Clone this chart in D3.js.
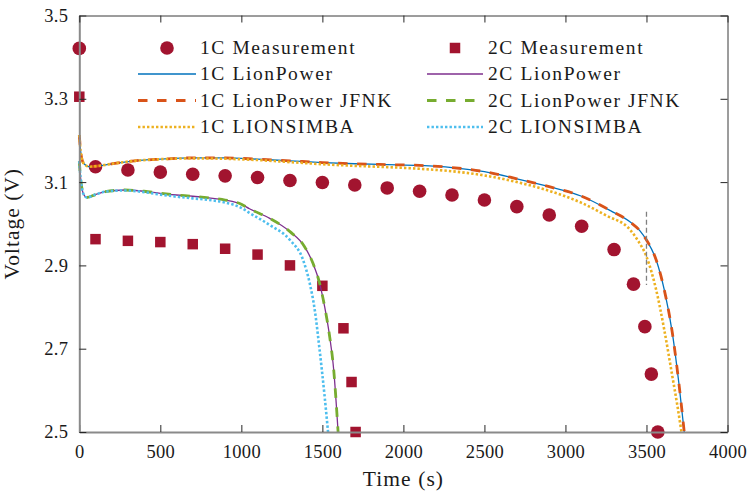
<!DOCTYPE html>
<html>
<head>
<meta charset="utf-8">
<script src="https://cdn.jsdelivr.net/npm/d3@7"></script>
<style>
  html, body { margin: 0; padding: 0; background: #fff; }
  svg { display: block; font-family: "Liberation Serif", "Times New Roman", serif; }
</style>
</head>
<body>
<svg id="chart" width="753" height="497"></svg>
<script>
// Discharge voltage vs. time, 1C and 2C
const xTicks = [0, 500, 1000, 1500, 2000, 2500, 3000, 3500, 4000];
const yTicks = [2.5, 2.7, 2.9, 3.1, 3.3, 3.5];

// Measurements
const meas1C_t = [0, 100, 300, 500, 700, 900, 1100, 1300, 1500, 1700, 1900, 2100, 2300, 2500, 2700, 2900, 3100, 3300, 3420, 3490, 3530, 3570];
const meas1C_v = [3.421, 3.137, 3.129, 3.124, 3.119, 3.115, 3.111, 3.104, 3.099, 3.093, 3.086, 3.078, 3.069, 3.057, 3.041, 3.021, 2.994, 2.938, 2.855, 2.753, 2.639, 2.500];
const meas2C_t = [0, 100, 300, 500, 700, 900, 1100, 1300, 1500, 1630, 1680, 1705];
const meas2C_v = [3.305, 2.963, 2.959, 2.956, 2.951, 2.940, 2.926, 2.900, 2.851, 2.749, 2.620, 2.500];

// 1C simulations
const lp1C_t = [0, 8, 25, 60, 120, 220, 340, 500, 700, 900, 1100, 1300, 1500, 1700, 1900, 2100, 2300, 2500, 2700, 2900, 3100, 3280, 3400, 3460, 3500, 3560, 3610, 3660, 3700, 3733];
const lp1C_v = [3.213, 3.175, 3.146, 3.137, 3.139, 3.145, 3.151, 3.155, 3.158, 3.158, 3.155, 3.151, 3.147, 3.144, 3.142, 3.140, 3.135, 3.125, 3.108, 3.089, 3.066, 3.031, 3.004, 2.983, 2.961, 2.913, 2.841, 2.737, 2.617, 2.500];
const jfnk1C_t = [0, 8, 25, 60, 120, 220, 340, 500, 700, 900, 1100, 1300, 1500, 1700, 1900, 2100, 2300, 2500, 2700, 2900, 3100, 3280, 3400, 3460, 3500, 3560, 3610, 3660, 3700, 3733];
const jfnk1C_v = [3.213, 3.175, 3.146, 3.137, 3.139, 3.145, 3.151, 3.155, 3.158, 3.158, 3.155, 3.151, 3.147, 3.144, 3.142, 3.140, 3.135, 3.125, 3.108, 3.089, 3.066, 3.031, 3.004, 2.983, 2.961, 2.913, 2.841, 2.737, 2.617, 2.500];
const simba1C_t = [0, 8, 25, 60, 120, 220, 340, 500, 700, 900, 1100, 1300, 1500, 1700, 1900, 2100, 2300, 2500, 2700, 2900, 3100, 3250, 3400, 3450, 3500, 3560, 3610, 3660, 3690, 3716];
const simba1C_v = [3.213, 3.175, 3.146, 3.137, 3.139, 3.145, 3.151, 3.155, 3.157, 3.156, 3.153, 3.148, 3.143, 3.139, 3.136, 3.132, 3.126, 3.116, 3.100, 3.079, 3.050, 3.020, 2.985, 2.958, 2.921, 2.841, 2.745, 2.633, 2.565, 2.500];

// 2C simulations
const lp2C_t = [0, 8, 25, 46, 100, 160, 280, 400, 500, 600, 700, 800, 900, 1000, 1050, 1175, 1300, 1390, 1442, 1483, 1514, 1545, 1570, 1597];
const lp2C_v = [3.150, 3.110, 3.072, 3.063, 3.070, 3.077, 3.081, 3.078, 3.073, 3.069, 3.066, 3.062, 3.057, 3.047, 3.036, 3.013, 2.981, 2.945, 2.905, 2.857, 2.801, 2.729, 2.649, 2.500];
const jfnk2C_t = [0, 8, 25, 46, 100, 160, 280, 400, 500, 600, 700, 800, 900, 1000, 1050, 1175, 1300, 1390, 1442, 1483, 1514, 1545, 1570, 1597];
const jfnk2C_v = [3.150, 3.110, 3.072, 3.063, 3.070, 3.077, 3.081, 3.078, 3.073, 3.069, 3.066, 3.062, 3.057, 3.047, 3.036, 3.013, 2.981, 2.945, 2.905, 2.857, 2.801, 2.729, 2.649, 2.500];
const simba2C_t = [0, 8, 25, 46, 100, 160, 280, 400, 500, 600, 700, 800, 900, 1000, 1050, 1175, 1300, 1381, 1422, 1453, 1483, 1514, 1535];
const simba2C_v = [3.150, 3.110, 3.072, 3.063, 3.070, 3.077, 3.080, 3.076, 3.070, 3.065, 3.061, 3.057, 3.051, 3.038, 3.026, 2.997, 2.961, 2.913, 2.857, 2.793, 2.697, 2.585, 2.500];

// Reference marker at t = 3500 s
const marker_t = 3500;
const marker_v = [2.853, 3.029];

const legendLabels = ["1C Measurement", "2C Measurement", "1C LionPower", "2C LionPower",
  "1C LionPower JFNK", "2C LionPower JFNK", "1C LIONSIMBA", "2C LIONSIMBA"];

const C = {
  meas: "#A2142F", blue: "#0072BD", orange: "#D95319", yellow: "#EDB120",
  purple: "#7E2F8E", green: "#77AC30", cyan: "#4DBEEE"
};
const FONT = "'Liberation Serif', 'Times New Roman', serif";
const INK = "#1a1a1a";

const svg = d3.select("#chart");
const plot = { left: 79.3, right: 727.5, top: 15.5, bottom: 432 };

const x = d3.scaleLinear().domain([0, 4000]).range([plot.left, plot.right]);
const y = d3.scaleLinear().domain([2.5, 3.5]).range([plot.bottom, plot.top]);

const zip = (ts, vs) => ts.map((t, i) => [t, vs[i]]);

// Measurement markers (drawn below the simulation curves)
const gMarks = svg.append("g");
gMarks.selectAll("circle.m1").data(zip(meas1C_t, meas1C_v)).join("circle")
  .attr("class", "m1").attr("cx", d => x(d[0])).attr("cy", d => y(d[1]))
  .attr("r", 6.8).attr("fill", C.meas);
const sq = 10.5;
gMarks.selectAll("rect.m2").data(zip(meas2C_t, meas2C_v)).join("rect")
  .attr("class", "m2").attr("x", d => x(d[0]) - sq / 2).attr("y", d => y(d[1]) - sq / 2)
  .attr("width", sq).attr("height", sq).attr("fill", C.meas);

// Simulation curves
const line = d3.line().x(d => x(d[0])).y(d => y(d[1])).curve(d3.curveMonotoneX);
const styles = {
  solid: { w: 1.3, dash: null },
  dashed: { w: 2.8, dash: "9.5,9.5" },
  dotted: { w: 2.6, dash: "2.4,2.1" }
};
const series = [
  { t: lp1C_t, v: lp1C_v, c: C.blue, s: "solid" },
  { t: lp2C_t, v: lp2C_v, c: C.purple, s: "solid" },
  { t: jfnk1C_t, v: jfnk1C_v, c: C.orange, s: "dashed" },
  { t: jfnk2C_t, v: jfnk2C_v, c: C.green, s: "dashed" },
  { t: simba1C_t, v: simba1C_v, c: C.yellow, s: "dotted" },
  { t: simba2C_t, v: simba2C_v, c: C.cyan, s: "dotted" }
];
const gLines = svg.append("g");
series.forEach(sr => {
  gLines.append("path")
    .attr("d", line(zip(sr.t, sr.v)))
    .attr("fill", "none")
    .attr("stroke", sr.c)
    .attr("stroke-width", styles[sr.s].w)
    .attr("stroke-dasharray", styles[sr.s].dash);
});

// Vertical dashed marker
svg.append("line")
  .attr("x1", x(marker_t)).attr("x2", x(marker_t))
  .attr("y1", y(marker_v[1])).attr("y2", y(marker_v[0]))
  .attr("stroke", "#808080").attr("stroke-width", 1.3).attr("stroke-dasharray", "5,3");

// Axes (ticks pointing inward, box on all sides)
const fmtY = d3.format(".1f");
const axB = svg.append("g").attr("transform", `translate(0,${plot.bottom})`)
  .call(d3.axisBottom(x).tickValues(xTicks).tickSizeInner(-7).tickSizeOuter(0).tickPadding(13).tickFormat(d3.format("d")));
const axL = svg.append("g").attr("transform", `translate(${plot.left},0)`)
  .call(d3.axisLeft(y).tickValues(yTicks).tickSizeInner(-7).tickSizeOuter(0).tickPadding(11).tickFormat(fmtY));
const axT = svg.append("g").attr("transform", `translate(0,${plot.top})`)
  .call(d3.axisTop(x).tickValues(xTicks).tickSizeInner(-7).tickSizeOuter(0).tickFormat(""));
const axR = svg.append("g").attr("transform", `translate(${plot.right},0)`)
  .call(d3.axisRight(y).tickValues(yTicks).tickSizeInner(-7).tickSizeOuter(0).tickFormat(""));

[axB, axL].forEach(a => a.select(".domain").attr("stroke", "#8a8a8a").attr("stroke-width", 2));
[axT, axR].forEach(a => a.select(".domain").attr("stroke", "#3a3a3a").attr("stroke-width", 1));
[axB, axL, axT, axR].forEach(a => {
  a.attr("font-family", FONT);
  a.selectAll(".tick line").attr("stroke", "#262626").attr("stroke-width", 1);
  a.selectAll(".tick text").attr("fill", INK).attr("font-size", 18.5)
    .attr("font-family", FONT).attr("letter-spacing", 0.3);
});

// Axis titles
svg.append("text").attr("x", (plot.left + plot.right) / 2).attr("y", 486)
  .attr("text-anchor", "middle").attr("font-family", FONT).attr("font-size", 21.5)
  .attr("letter-spacing", 1.1).attr("fill", INK)
  .text("Time (s)");
svg.append("text")
  .attr("transform", `translate(19,${(plot.top + plot.bottom) / 2}) rotate(-90)`)
  .attr("text-anchor", "middle").attr("font-family", FONT).attr("font-size", 21.5)
  .attr("letter-spacing", 1.0).attr("fill", INK)
  .text("Voltage (V)");

// Legend (two columns, row-wise order)
const legCols = [{ x0: 138, x1: 196, tx: 200 }, { x0: 427, x1: 483, tx: 488 }];
const legRows = [48, 74, 100.5, 127];
const legItems = [
  { kind: "circle" }, { kind: "square" },
  { kind: "line", c: C.blue, s: "solid" }, { kind: "line", c: C.purple, s: "solid" },
  { kind: "line", c: C.orange, s: "dashed" }, { kind: "line", c: C.green, s: "dashed" },
  { kind: "line", c: C.yellow, s: "dotted" }, { kind: "line", c: C.cyan, s: "dotted" }
];
const gLeg = svg.append("g");
legItems.forEach((it, i) => {
  const col = legCols[i % 2], ry = legRows[Math.floor(i / 2)];
  const mid = (col.x0 + col.x1) / 2;
  if (it.kind === "circle") {
    gLeg.append("circle").attr("cx", mid).attr("cy", ry).attr("r", 6.8).attr("fill", C.meas);
  } else if (it.kind === "square") {
    gLeg.append("rect").attr("x", mid - sq / 2).attr("y", ry - sq / 2)
      .attr("width", sq).attr("height", sq).attr("fill", C.meas);
  } else {
    gLeg.append("line").attr("x1", col.x0).attr("x2", col.x1).attr("y1", ry).attr("y2", ry)
      .attr("stroke", it.c).attr("stroke-width", styles[it.s].w)
      .attr("stroke-dasharray", styles[it.s].dash);
  }
  gLeg.append("text").attr("x", col.tx).attr("y", ry).attr("dy", "0.33em")
    .attr("font-family", FONT).attr("font-size", 19.5).attr("fill", INK)
    .attr("letter-spacing", 1.6)
    .text(legendLabels[i]);
});
</script>
</body>
</html>
